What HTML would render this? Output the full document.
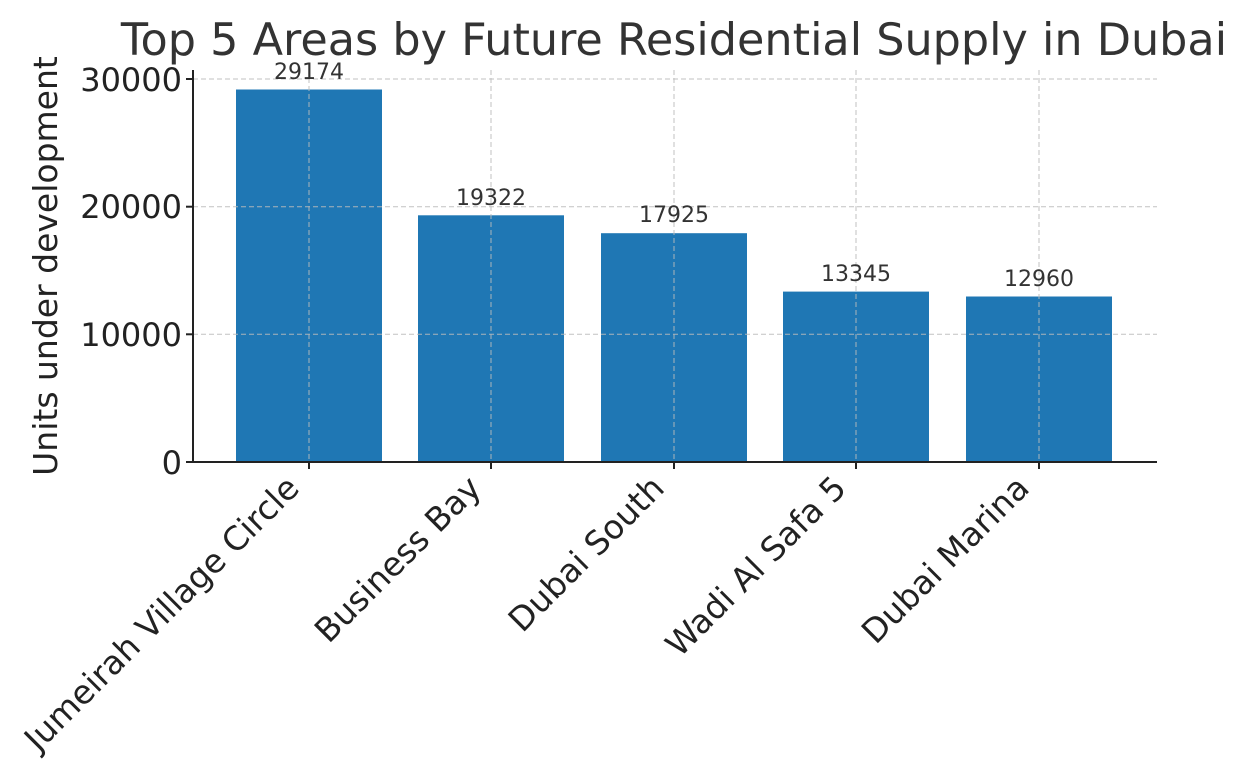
<!DOCTYPE html>
<html><head><meta charset="utf-8"><style>
html,body{margin:0;padding:0;background:#fff;}
svg{display:block;font-family:"DejaVu Sans","Liberation Sans",sans-serif;}
</style></head><body>
<svg width="1246" height="780" viewBox="0 0 1246 780" xmlns="http://www.w3.org/2000/svg">
<rect width="1246" height="780" fill="#fff"/>
<text x="674" y="55" font-size="44.5" text-anchor="middle" fill="#333">Top 5 Areas by Future Residential Supply in Dubai</text>
<g fill="#1f77b4">
<rect x="236" y="89.5" width="146" height="372.5"/>
<rect x="418" y="215.3" width="146" height="246.7"/>
<rect x="601" y="233.2" width="146" height="228.8"/>
<rect x="783" y="291.6" width="146" height="170.4"/>
<rect x="966" y="296.5" width="146" height="165.5"/>
</g>
<g stroke="#bbb" stroke-width="1" stroke-dasharray="5,3" opacity="0.9">
<line x1="193" x2="1157" y1="79" y2="79"/>
<line x1="193" x2="1157" y1="206.7" y2="206.7"/>
<line x1="193" x2="1157" y1="334.3" y2="334.3"/>
<line x1="309" x2="309" y1="70" y2="462"/>
<line x1="491" x2="491" y1="70" y2="462"/>
<line x1="674" x2="674" y1="70" y2="462"/>
<line x1="856" x2="856" y1="70" y2="462"/>
<line x1="1039" x2="1039" y1="70" y2="462"/>
</g>
<g stroke="#222" stroke-width="2">
<line x1="193" x2="193" y1="70" y2="463"/>
<line x1="192" x2="1157" y1="462" y2="462"/>
<line x1="186" x2="193" y1="79" y2="79"/>
<line x1="186" x2="193" y1="206.7" y2="206.7"/>
<line x1="186" x2="193" y1="334.3" y2="334.3"/>
<line x1="186" x2="193" y1="462" y2="462"/>
<line x1="309" x2="309" y1="462" y2="469"/>
<line x1="491" x2="491" y1="462" y2="469"/>
<line x1="674" x2="674" y1="462" y2="469"/>
<line x1="856" x2="856" y1="462" y2="469"/>
<line x1="1039" x2="1039" y1="462" y2="469"/>
</g>
<g font-size="32" fill="#222" text-anchor="end">
<text x="182" y="91">30000</text>
<text x="182" y="218">20000</text>
<text x="182" y="346">10000</text>
<text x="182" y="474">0</text>
</g>
<text transform="translate(57,266) rotate(-90)" font-size="33" fill="#222" text-anchor="middle">Units under development</text>
<g font-size="22" fill="#333" text-anchor="middle">
<text x="309" y="79">29174</text>
<text x="491" y="205">19322</text>
<text x="674" y="222">17925</text>
<text x="856" y="281">13345</text>
<text x="1039" y="286">12960</text>
</g>
<g font-size="33" fill="#222" text-anchor="end">
<text transform="translate(301,490) rotate(-45)">Jumeirah Village Circle</text>
<text transform="translate(483,490) rotate(-45)">Business Bay</text>
<text transform="translate(666,490) rotate(-45)">Dubai South</text>
<text transform="translate(848,490) rotate(-45)">Wadi Al Safa 5</text>
<text transform="translate(1031,490) rotate(-45)">Dubai Marina</text>
</g>
</svg>
</body></html>
